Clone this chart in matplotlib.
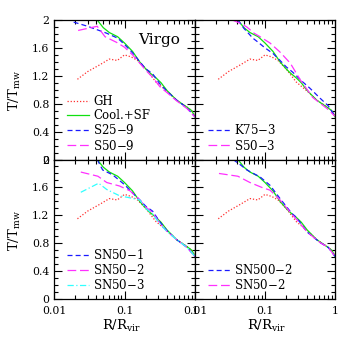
import numpy as np
import matplotlib.pyplot as plt
from matplotlib.ticker import MultipleLocator, FixedLocator, NullFormatter

plt.rcParams['font.family'] = 'DejaVu Serif'
plt.rcParams['mathtext.fontset'] = 'dejavuserif'

# GH (same in every panel)
gh_x = [0.0215, 0.03, 0.045, 0.061, 0.079, 0.1, 0.125, 0.153, 0.2, 0.28, 0.4, 0.55, 0.75, 0.9, 1.0]
gh_y = [1.15, 1.26, 1.36, 1.44, 1.42, 1.50, 1.47, 1.42, 1.30, 1.11, 0.98, 0.85, 0.76, 0.70, 0.62]

# Cool.+SF
csf_x = [0.041, 0.05, 0.061, 0.08, 0.1, 0.13, 0.164, 0.2, 0.23, 0.28, 0.33, 0.4, 0.55, 0.77, 0.9, 1.0]
csf_y = [2.00, 1.89, 1.82, 1.76, 1.67, 1.55, 1.40, 1.30, 1.24, 1.17, 1.10, 0.99, 0.85, 0.75, 0.70, 0.61]

# top left
s25_9_x = [0.019, 0.03, 0.041, 0.056, 0.08, 0.1, 0.13, 0.165, 0.2, 0.25, 0.32, 0.4, 0.55, 0.77, 1.0]
s25_9_y = [1.97, 1.91, 1.86, 1.81, 1.74, 1.65, 1.53, 1.40, 1.30, 1.23, 1.08, 0.98, 0.85, 0.74, 0.61]
s50_9_x = [0.022, 0.03, 0.041, 0.053, 0.077, 0.1, 0.13, 0.165, 0.2, 0.25, 0.32, 0.4, 0.55, 0.77, 1.0]
s50_9_y = [1.85, 1.88, 1.91, 1.76, 1.68, 1.61, 1.50, 1.38, 1.28, 1.18, 1.04, 0.96, 0.84, 0.73, 0.61]

# top right
k75_3_x = [0.041, 0.05, 0.067, 0.08, 0.1, 0.13, 0.164, 0.2, 0.25, 0.33, 0.44, 0.61, 0.8, 1.0]
k75_3_y = [2.00, 1.88, 1.74, 1.68, 1.60, 1.52, 1.42, 1.33, 1.25, 1.13, 1.02, 0.88, 0.77, 0.62]
s50_3_x = [0.034, 0.045, 0.055, 0.07, 0.085, 0.118, 0.164, 0.23, 0.32, 0.48, 0.77, 1.0]
s50_3_y = [2.00, 1.95, 1.90, 1.81, 1.76, 1.67, 1.54, 1.38, 1.14, 0.89, 0.73, 0.62]

# bottom left
sn50_1_x = [0.041, 0.049, 0.068, 0.1, 0.13, 0.165, 0.2, 0.25, 0.32, 0.4, 0.55, 0.77, 1.0]
sn50_1_y = [2.00, 1.85, 1.78, 1.64, 1.52, 1.42, 1.33, 1.26, 1.10, 0.98, 0.85, 0.74, 0.61]
sn50_2_x = [0.024, 0.042, 0.056, 0.085, 0.12, 0.165, 0.2, 0.25, 0.32, 0.4, 0.55, 0.77, 1.0]
sn50_2_y = [1.82, 1.76, 1.67, 1.62, 1.55, 1.42, 1.32, 1.24, 1.08, 0.97, 0.85, 0.74, 0.61]
sn50_3_x = [0.024, 0.043, 0.056, 0.085, 0.12, 0.165, 0.2, 0.25, 0.32, 0.4, 0.55, 0.77, 1.0]
sn50_3_y = [1.53, 1.66, 1.57, 1.48, 1.45, 1.42, 1.30, 1.22, 1.07, 0.97, 0.85, 0.74, 0.61]

# bottom right
sn500_2_x = [0.035, 0.045, 0.055, 0.085, 0.118, 0.164, 0.24, 0.28, 0.4, 0.61, 0.8, 1.0]
sn500_2_y = [2.00, 1.92, 1.85, 1.75, 1.63, 1.44, 1.23, 1.17, 0.96, 0.81, 0.74, 0.61]
sn50_2b_x = [0.022, 0.041, 0.061, 0.09, 0.118, 0.164, 0.24, 0.32, 0.4, 0.61, 0.8, 1.0]
sn50_2b_y = [1.80, 1.76, 1.67, 1.60, 1.56, 1.42, 1.22, 1.08, 0.96, 0.81, 0.74, 0.61]

y_ticks = [0, 0.4, 0.8, 1.2, 1.6, 2]
y_labels = ['0', '0.4', '0.8', '1.2', '1.6', '2']
x_ticks = [0.01, 0.1, 1]
x_labels = ['0.01', '0.1', '1']

RED, GREEN, BLUE, MAG, CYAN = '#ff3030', '#10e010', '#1a1aff', '#ff30ff', '#30ffff'
dot = (0, (1, 1.5))
dash = (0, (4, 2.5))
ldash = (0, (7, 3))
dashdot = (0, (5, 2, 1, 2))

fig = plt.figure(figsize=(3.54, 3.54), dpi=100)
W, H = 354.0, 354.0
boxes = {
    'tl': (54, 20, 141, 139.5),
    'tr': (195, 20, 140, 139.5),
    'bl': (54, 159.5, 141, 139.5),
    'br': (195, 159.5, 140, 139.5),
}
axes = {}
for k, (x0, y0, w, h) in boxes.items():
    axes[k] = fig.add_axes([x0 / W, 1 - (y0 + h) / H, w / W, h / H])

fs = 7.8
for k, ax in axes.items():
    ax.set_xscale('log')
    ax.set_xlim(0.01, 1)
    ax.set_ylim(0, 2)
    ax.xaxis.set_major_locator(FixedLocator(x_ticks))
    ax.xaxis.set_minor_locator(FixedLocator(
        [m * d for d in (0.01, 0.1) for m in range(2, 10)]))
    ax.xaxis.set_minor_formatter(NullFormatter())
    ax.yaxis.set_major_locator(FixedLocator(y_ticks))
    ax.yaxis.set_minor_locator(MultipleLocator(0.1))
    ax.tick_params(which='both', direction='in', top=True, right=True,
                   labelsize=fs, width=0.8)
    ax.tick_params(which='major', length=6)
    ax.tick_params(which='minor', length=3)
    ax.tick_params(axis='x', pad=5)
    for s in ax.spines.values():
        s.set_linewidth(0.9)
    if k in ('tl', 'tr'):
        ax.set_xticklabels([])
    else:
        ax.set_xticklabels(x_labels)
    if k in ('tr', 'br'):
        ax.set_yticklabels([])
    else:
        ax.set_yticklabels(y_labels)

lw = 0.9
for ax in axes.values():
    ax.plot(gh_x, gh_y, color=RED, ls=dot, lw=lw)
    ax.plot(csf_x, csf_y, color=GREEN, ls='-', lw=lw)

ax = axes['tl']
ax.plot([], [], color=RED, ls=dot, lw=lw, label='GH')
ax.plot([], [], color=GREEN, ls='-', lw=lw, label='Cool.+SF')
ax.plot(s25_9_x, s25_9_y, color=BLUE, ls=dash, lw=lw, label='S25$-$9')
ax.plot(s50_9_x, s50_9_y, color=MAG, ls=ldash, lw=lw, label='S50$-$9')
ax.text(0.60, 0.825, 'Virgo', transform=ax.transAxes, fontsize=11)

ax = axes['tr']
ax.plot(k75_3_x, k75_3_y, color=BLUE, ls=dash, lw=lw, label='K75$-$3')
ax.plot(s50_3_x, s50_3_y, color=MAG, ls=ldash, lw=lw, label='S50$-$3')

ax = axes['bl']
ax.plot(sn50_1_x, sn50_1_y, color=BLUE, ls=dash, lw=lw, label='SN50$-$1')
ax.plot(sn50_2_x, sn50_2_y, color=MAG, ls=ldash, lw=lw, label='SN50$-$2')
ax.plot(sn50_3_x, sn50_3_y, color=CYAN, ls=dashdot, lw=lw, label='SN50$-$3')

ax = axes['br']
ax.plot(sn500_2_x, sn500_2_y, color=BLUE, ls=dash, lw=lw, label='SN500$-$2')
ax.plot(sn50_2b_x, sn50_2b_y, color=MAG, ls=ldash, lw=lw, label='SN50$-$2')

for ax in axes.values():
    ax.legend(loc='lower left', bbox_to_anchor=(0.095, 0.05), frameon=False,
              fontsize=8.5, handlelength=1.8, handletextpad=0.4,
              labelspacing=0.1, borderaxespad=0, borderpad=0)

fig.text(15 / W, 1 - 91 / H, r'T/T$_{\rm mw}$', rotation=90, fontsize=9.5,
         ha='center', va='center')
fig.text(15 / W, 1 - 231 / H, r'T/T$_{\rm mw}$', rotation=90, fontsize=9.5,
         ha='center', va='center')
fig.text(122 / W, 1 - 326 / H, r'R/R$_{\rm vir}$', fontsize=9.5,
         ha='center', va='center')
fig.text(267 / W, 1 - 326 / H, r'R/R$_{\rm vir}$', fontsize=9.5,
         ha='center', va='center')

fig.savefig('out.png', dpi=100)
